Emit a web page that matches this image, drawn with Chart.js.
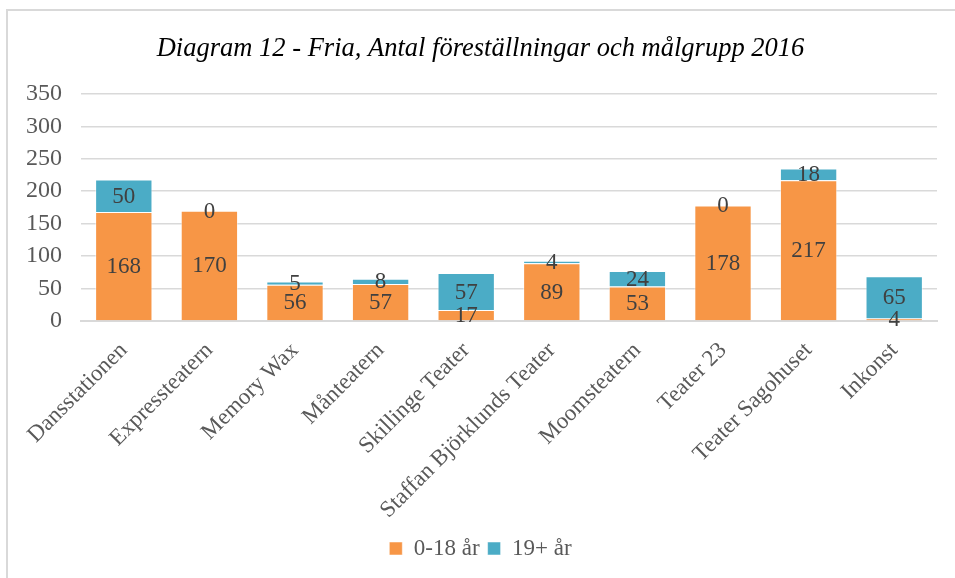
<!DOCTYPE html>
<html>
<head>
<meta charset="utf-8">
<script src="https://cdn.jsdelivr.net/npm/chart.js@4/dist/chart.umd.min.js"></script>
<style>
  body { margin: 0; background: #fff; overflow: hidden; }
  #frame {
    position: absolute; left: 6px; top: 9px; width: 980px; height: 580px;
    border-left: 2px solid #d9d9d9; border-top: 2px solid #d9d9d9; box-sizing: border-box;
  }
  #chartBox { position: absolute; left: 0; top: 0; width: 961px; height: 569px; }
</style>
</head>
<body>
<div id="frame"><div id="chartBox"><canvas id="myChart"></canvas></div></div>
<script>
// data
const CATEGORIES = ["Dansstationen", "Expressteatern", "Memory Wax", "Månteatern", "Skillinge Teater",
  "Staffan Björklunds Teater", "Moomsteatern", "Teater 23", "Teater Sagohuset", "Inkonst"];
const YOUNG = [168, 170, 56, 57, 17, 89, 53, 178, 217, 4];
const ADULT = [50, 0, 5, 8, 57, 4, 24, 0, 18, 65];
const SERIES_NAMES = ["0-18 år", "19+ år"];
const Y_TICKS = [0, 50, 100, 150, 200, 250, 300, 350];

const COLOR_YOUNG = "#F79646";
const COLOR_ADULT = "#4BACC6";
const FONT = "'Liberation Serif', 'Times New Roman', serif";

// draw the values in the middle of each segment
const centerLabels = {
  id: "centerLabels",
  afterDatasetsDraw(chart) {
    const ctx = chart.ctx;
    ctx.save();
    ctx.font = "23px " + FONT;
    ctx.fillStyle = "#404040";
    ctx.textAlign = "center";
    ctx.textBaseline = "middle";
    chart.data.datasets.forEach((ds, i) => {
      chart.getDatasetMeta(i).data.forEach((bar, j) => {
        const p = bar.getProps(["x", "y", "base"], true);
        ctx.fillText(String(ds.data[j]), p.x, (p.y + p.base) / 2 + 1);
      });
    });
    ctx.restore();
  }
};

const ctx = document.getElementById("myChart").getContext("2d");
new Chart(ctx, {
  type: "bar",
  data: {
    labels: CATEGORIES,
    datasets: [
      { label: SERIES_NAMES[0], data: YOUNG, backgroundColor: COLOR_YOUNG,
        borderColor: "rgba(255,255,255,0.5)", borderWidth: 1 },
      { label: SERIES_NAMES[1], data: ADULT, backgroundColor: COLOR_ADULT,
        borderColor: "rgba(255,255,255,0.5)", borderWidth: 1 }
    ]
  },
  plugins: [centerLabels],
  options: {
    maintainAspectRatio: false,
    animation: false,
    categoryPercentage: 0.67,
    barPercentage: 1,
    layout: { padding: { left: 16, right: 32, top: 2, bottom: 10 } },
    scales: {
      x: {
        stacked: true,
        grid: { display: false },
        border: { color: "#d9d9d9", width: 2 },
        ticks: {
          color: "#595959", font: { family: FONT, size: 23 },
          minRotation: 45, maxRotation: 45, padding: 8
        },
        afterFit: (scale) => {
          scale.height = 208;
          scale.paddingLeft = 0;
          scale.paddingRight = 0;
        }
      },
      y: {
        stacked: true,
        min: 0, max: 350,
        afterBuildTicks: (axis) => { axis.ticks = Y_TICKS.map(v => ({ value: v })); },
        grid: { color: "#d9d9d9", lineWidth: 1.5, drawTicks: false },
        border: { display: false },
        ticks: { color: "#595959", font: { family: FONT, size: 24 }, padding: 19, autoSkip: false },
        afterFit: (scale) => { scale.width = 57; }
      }
    },
    plugins: {
      title: {
        display: true,
        text: "Diagram 12 - Fria, Antal föreställningar och målgrupp 2016",
        color: "#000",
        font: { family: FONT, size: 26.5, style: "italic", weight: "normal" },
        padding: { top: 20, bottom: 29 }
      },
      legend: {
        display: true,
        position: "bottom",
        labels: {
          color: "#595959", font: { family: FONT, size: 23 },
          boxWidth: 13, boxHeight: 13, padding: 8
        }
      },
      tooltip: { enabled: false }
    }
  }
});
</script>
</body>
</html>
